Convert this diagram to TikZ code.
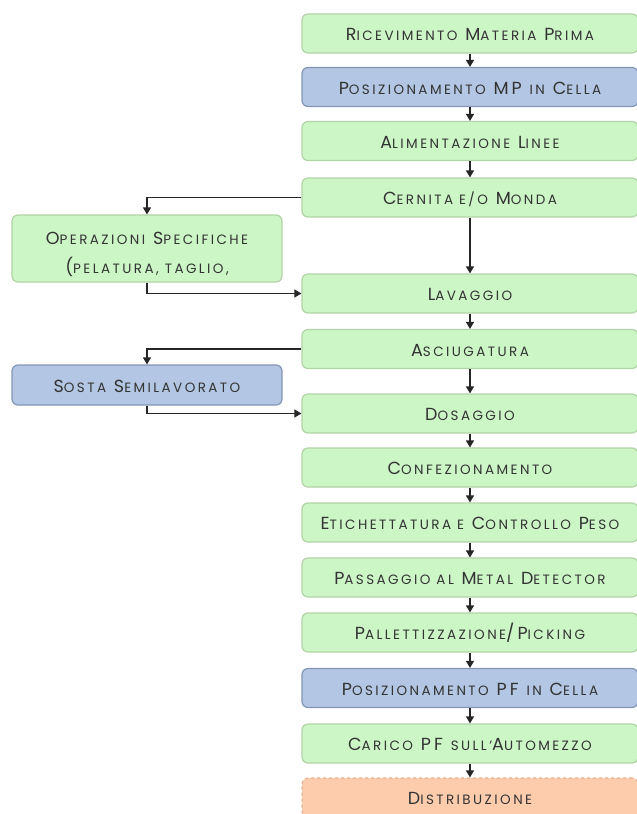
\documentclass[tikz,border=0pt]{standalone}
\usepackage{fontspec}
\setmainfont{Poppins}[LetterSpace=18]
\usetikzlibrary{arrows.meta}
\definecolor{gfill}{HTML}{CCF6C6}
\definecolor{gdraw}{HTML}{B2D3A6}
\definecolor{bfill}{HTML}{B3C6E3}
\definecolor{bdraw}{HTML}{8496B5}
\definecolor{ofill}{HTML}{FCCCAD}
\definecolor{odraw}{HTML}{E5B394}
\definecolor{txt}{HTML}{333333}
\newcommand\sm[1]{{\fontsize{13.5}{14}\selectfont\MakeUppercase{#1}}}
\tikzset{
  box/.style={draw=gdraw, fill=gfill, rounded corners=6pt, line width=1.2pt,
    minimum width=336pt, minimum height=39pt, inner sep=0pt, text=txt,
    font=\fontsize{17.5}{27}\selectfont, align=center,
    text height=16.5pt, text depth=2pt},
  bluebox/.style={box, draw=bdraw, fill=bfill},
  orangebox/.style={box, draw=odraw, fill=ofill, dashed},
  sidebox/.style={minimum width=270pt},
  arr/.style={-{Triangle[length=7pt,width=8pt]}, line width=1.3pt, draw=black!85}
}
\begin{document}
\begin{tikzpicture}[x=1pt,y=-1pt]
\fill[white] (0,0) rectangle (637,814);
\clip (0,0) rectangle (637,814);
\node[box] (ric) at (470,33.5) {R\sm{icevimento} M\sm{ateria} P\sm{rima}};
\node[bluebox] (posmp) at (470,87) {P\sm{osizionamento} MP \sm{in} C\sm{ella}};
\node[box] (alim) at (470,141) {A\sm{limentazione} L\sm{inee}};
\node[box] (cern) at (470,197.5) {C\sm{ernita e/o} M\sm{onda}};
\node[box, sidebox, minimum height=67pt, text height={}, text depth={}] (oper) at (147,248.5) {\rule{0pt}{24pt}O\sm{perazioni} S\sm{pecifiche}\\[2pt](\sm{pelatura, taglio,}};
\node[box] (lav) at (470,293.5) {L\sm{avaggio}};
\node[box] (asc) at (470,349) {A\sm{sciugatura}};
\node[bluebox, sidebox, minimum height=40pt] (sosta) at (147,385) {S\sm{osta} S\sm{emilavorato}};
\node[box] (dos) at (470,413.5) {D\sm{osaggio}};
\node[box] (conf) at (470,467.5) {C\sm{onfezionamento}};
\node[box] (etic) at (470,522.5) {E\sm{tichettatura e} C\sm{ontrollo} P\sm{eso}};
\node[box] (pass) at (470,577.5) {P\sm{assaggio al} M\sm{etal} D\sm{etector}};
\node[box] (pall) at (470,632.5) {P\sm{allettizzazione}/P\sm{icking}};
\node[bluebox] (pospf) at (470,688) {P\sm{osizionamento} PF \sm{in} C\sm{ella}};
\node[box] (car) at (470,743.5) {C\sm{arico} PF \sm{sull'}A\sm{utomezzo}};
\node[orangebox] (dist) at (470,797.5) {D\sm{istribuzione}};
\draw[arr] (ric) -- (posmp);
\draw[arr] (posmp) -- (alim);
\draw[arr] (alim) -- (cern);
\draw[arr] (cern) -- (lav);
\draw[arr] (lav) -- (asc);
\draw[arr] (asc) -- (dos);
\draw[arr] (dos) -- (conf);
\draw[arr] (conf) -- (etic);
\draw[arr] (etic) -- (pass);
\draw[arr] (pass) -- (pall);
\draw[arr] (pall) -- (pospf);
\draw[arr] (pospf) -- (car);
\draw[arr] (car) -- (dist);
\draw[arr] (cern.west) -| (oper.north);
\draw[arr] (oper.south) |- (lav.west);
\draw[arr] (asc.west) -| (sosta.north);
\draw[arr] (sosta.south) |- (dos.west);
\end{tikzpicture}
\end{document}
